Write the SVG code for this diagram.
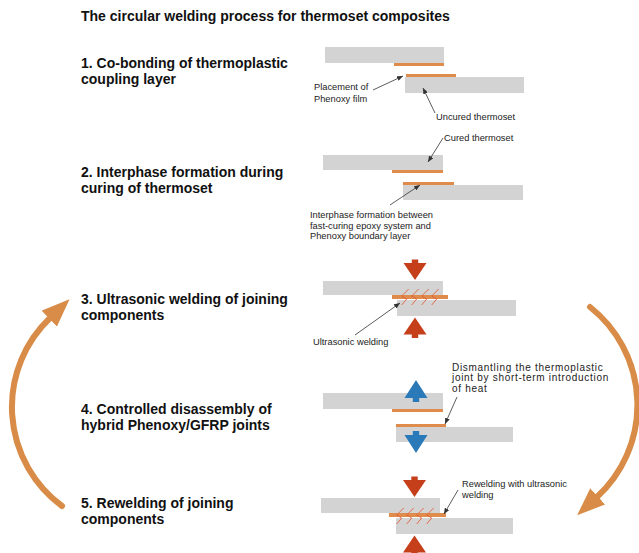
<svg xmlns="http://www.w3.org/2000/svg" xmlns:xlink="http://www.w3.org/1999/xlink" width="639" height="553" viewBox="0 0 639 553">
<style>
.title{font-family:"Liberation Sans",Arial,sans-serif;font-weight:bold;font-size:14px;fill:#111}
.step{font-family:"Liberation Sans",Arial,sans-serif;font-weight:bold;font-size:14px;fill:#111}
.note{font-family:"Liberation Sans",Arial,sans-serif;font-size:9.3px;fill:#222}
.wide{font-size:10px;letter-spacing:0.7px}
.plate{fill:#D3D3D3}
.film{fill:#DE8B4B}
.lead{stroke:#333;stroke-width:0.8;fill:none;marker-end:url(#tip)}
.cycle{stroke:#D88C48;stroke-width:6;fill:none;stroke-linecap:round;marker-end:url(#big)}
.red{fill:#C53F1A}
.blue{fill:#2A7AB9}
.vib{stroke:#E0603A;stroke-width:0.9;fill:none}
</style>
<defs>
<marker id="tip" markerUnits="userSpaceOnUse" viewBox="0 0 6 5" markerWidth="6" markerHeight="5" refX="6" refY="2.5" orient="auto"><path d="M0,0 L6,2.5 L0,5 Z" fill="#333"/></marker>
<marker id="big" markerUnits="userSpaceOnUse" viewBox="0 0 28 22" markerWidth="28" markerHeight="22" refX="1" refY="11" orient="auto"><path d="M0,0 L28,11 L0,22 Z" fill="#D88C48"/></marker>
<path id="arrR" d="M-3.2,0 H3.2 V3.5 H11.5 L0,20.5 L-11.5,3.5 H-3.2 Z"/>
<path id="arrB" d="M-3.2,0 H3.2 V4 H11.5 L0,22 L-11.5,4 H-3.2 Z"/>
<path id="zig" d="M7,0 L0,7 L5,10 L0,16"/>
</defs>

<g id="title"><text class="title" x="81" y="21">The circular welding process for thermoset composites</text></g>

<g id="step1">
<text class="step" x="81" y="68">1. Co-bonding of thermoplastic</text>
<text class="step" x="81" y="84">coupling layer</text>
<rect class="plate" x="325" y="47" width="119" height="16"/>
<rect class="film" x="394" y="63" width="50" height="3"/>
<rect class="film" x="406" y="74" width="50" height="3"/>
<rect class="plate" x="405" y="77" width="119" height="16"/>
<text class="note" x="314" y="90">Placement of</text>
<text class="note" x="314" y="101.5">Phenoxy film</text>
<text class="note" x="436" y="120">Uncured thermoset</text>
</g>

<g id="step2">
<text class="step" x="81" y="177">2. Interphase formation during</text>
<text class="step" x="81" y="193">curing of thermoset</text>
<rect class="plate" x="323" y="155" width="120" height="15"/>
<rect class="film" x="392" y="170" width="51" height="3"/>
<rect class="film" x="403" y="182" width="51" height="3"/>
<rect class="plate" x="403" y="185" width="120" height="15"/>
<text class="note" x="444" y="141">Cured thermoset</text>
<text class="note" x="310" y="218">Interphase formation between</text>
<text class="note" x="310" y="228.5">fast-curing epoxy system and</text>
<text class="note" x="310" y="239">Phenoxy boundary layer</text>
</g>

<g id="step3">
<text class="step" x="81" y="304">3. Ultrasonic welding of joining</text>
<text class="step" x="81" y="320">components</text>
<rect class="plate" x="323" y="281" width="120" height="14"/>
<rect class="plate" x="397" y="300" width="119" height="16"/>
<rect class="film" x="392" y="295" width="56" height="4"/>
<use xlink:href="#zig" class="vib" transform="translate(401.7,289)"/>
<use xlink:href="#zig" class="vib" transform="translate(411.7,289)"/>
<use xlink:href="#zig" class="vib" transform="translate(421.7,289)"/>
<use xlink:href="#zig" class="vib" transform="translate(431.7,289)"/>
<use xlink:href="#arrR" class="red" transform="translate(415,259.5)"/>
<use xlink:href="#arrR" class="red" transform="translate(415,338) scale(1,-1)"/>
<text class="note" x="313" y="345">Ultrasonic welding</text>
</g>

<g id="step4">
<text class="step" x="81" y="414">4. Controlled disassembly of</text>
<text class="step" x="81" y="430">hybrid Phenoxy/GFRP joints</text>
<rect class="plate" x="323" y="393" width="120" height="16"/>
<rect class="film" x="392" y="409" width="51" height="3"/>
<rect class="film" x="396" y="424" width="50" height="3"/>
<rect class="plate" x="396" y="427" width="117" height="15"/>
<use xlink:href="#arrB" class="blue" transform="translate(416,402) scale(1,-1)"/>
<use xlink:href="#arrB" class="blue" transform="translate(416,431)"/>
<text class="note wide" x="452" y="370.5">Dismantling the thermoplastic</text>
<text class="note wide" x="452" y="381">joint by short-term introduction</text>
<text class="note wide" x="452" y="391.5">of heat</text>
</g>

<g id="step5">
<text class="step" x="81" y="508">5. Rewelding of joining</text>
<text class="step" x="81" y="524">components</text>
<rect class="plate" x="321" y="498" width="119" height="15"/>
<rect class="plate" x="396" y="518" width="117" height="16"/>
<rect class="film" x="389" y="513" width="57" height="4"/>
<use xlink:href="#zig" class="vib" transform="translate(396.7,508)"/>
<use xlink:href="#zig" class="vib" transform="translate(406.7,508)"/>
<use xlink:href="#zig" class="vib" transform="translate(416.7,508)"/>
<use xlink:href="#zig" class="vib" transform="translate(426.7,508)"/>
<use xlink:href="#arrR" class="red" transform="translate(414.5,476.5)"/>
<use xlink:href="#arrR" class="red" transform="translate(414.5,556) scale(1,-1)"/>
<text class="note" x="462" y="486.5">Rewelding with ultrasonic</text>
<text class="note" x="462" y="497.5">welding</text>
</g>

<g id="connectors">
<path class="lead" d="M373,90 L403,76"/>
<path class="lead" d="M435,113 L423,88"/>
<path class="lead" d="M443,138 L428,162"/>
<path class="lead" d="M390,205 L420,185"/>
<path class="lead" d="M355,335 L400,303"/>
<path class="lead" d="M457,397 L445,424"/>
<path class="lead" d="M458,490 L444,514"/>
<path class="cycle" d="M62,506 A123,123 0 0 1 50,318"/>
<path class="cycle" d="M590,307 A125,125 0 0 1 597,497"/>
</g>
</svg>
